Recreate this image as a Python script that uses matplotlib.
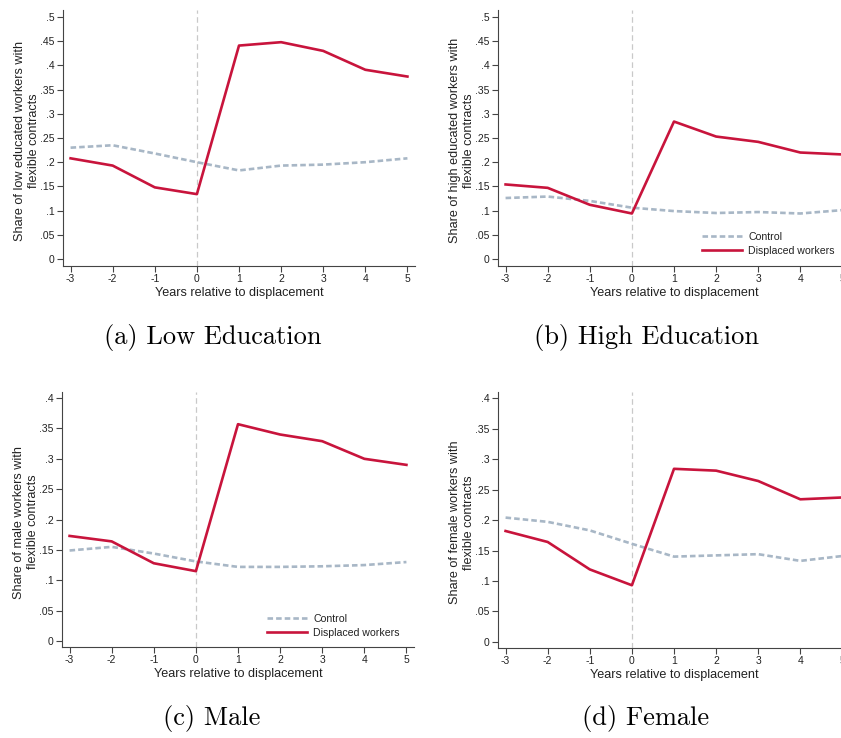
import numpy as np
import matplotlib
matplotlib.use("Agg")
import matplotlib.pyplot as plt

plt.rcParams['font.family'] = ['Liberation Sans', 'DejaVu Sans']
plt.rcParams['lines.scale_dashes'] = False

# data
years = [-3, -2, -1, 0, 1, 2, 3, 4, 5]

low_disp = [0.208, 0.193, 0.148, 0.134, 0.441, 0.448, 0.430, 0.391, 0.377]
low_ctrl = [0.230, 0.235, 0.218, 0.200, 0.183, 0.193, 0.195, 0.200, 0.208]

high_disp = [0.154, 0.147, 0.112, 0.094, 0.284, 0.253, 0.242, 0.220, 0.216]
high_ctrl = [0.126, 0.129, 0.120, 0.106, 0.099, 0.095, 0.097, 0.094, 0.101]

male_disp = [0.173, 0.164, 0.128, 0.115, 0.357, 0.340, 0.329, 0.300, 0.290]
male_ctrl = [0.149, 0.155, 0.144, 0.131, 0.122, 0.122, 0.123, 0.125, 0.130]

female_disp = [0.182, 0.164, 0.119, 0.093, 0.284, 0.281, 0.264, 0.234, 0.237]
female_ctrl = [0.204, 0.197, 0.183, 0.161, 0.140, 0.142, 0.144, 0.133, 0.141]

ylabels = ["Share of low educated workers with\nflexible contracts",
           "Share of high educated workers with\nflexible contracts",
           "Share of male workers with\nflexible contracts",
           "Share of female workers with\nflexible contracts"]
captions = ["(a) Low Education", "(b) High Education", "(c) Male", "(d) Female"]

yticks_top = [0, .05, .1, .15, .2, .25, .3, .35, .4, .45, .5]
yticks_bot = [0, .05, .1, .15, .2, .25, .3, .35, .4]

RED = '#C8143C'
CTRL = '#A8B7C6'
AXC = '#444444'

W, H = 841, 738
fig = plt.figure(figsize=(W / 100, H / 100), dpi=100)


def make_ax(left, top, bottom, width=352):
    return fig.add_axes([left / W, 1 - bottom / H, width / W, (bottom - top) / H])


def fmt(v):
    if v == 0:
        return "0"
    return ("%g" % v).lstrip("0")


def panel(ax, disp, ctrl, ylabel, yticks, ylim, legend=None):
    ax.axvline(0, color='#C9C9C9', lw=0.9, ls=(0, (4, 2.5)), zorder=1)
    ax.plot(years, ctrl, color=CTRL, lw=1.9, ls=(0, (4, 2.2)), label='Control', zorder=2)
    ax.plot(years, disp, color=RED, lw=1.9, label='Displaced workers', zorder=3)
    ax.set_xlim(-3.18, 5.18)
    ax.set_ylim(*ylim)
    ax.set_xticks(years)
    ax.set_xticklabels([str(y) for y in years])
    ax.set_yticks(yticks)
    ax.set_yticklabels([fmt(v) for v in yticks])
    for s in ['top', 'right']:
        ax.spines[s].set_visible(False)
    for s in ['left', 'bottom']:
        ax.spines[s].set_color(AXC)
        ax.spines[s].set_linewidth(0.8)
    ax.tick_params(colors=AXC, labelcolor='#222222', labelsize=7.5, length=4, width=0.8, pad=2)
    ax.set_xlabel("Years relative to displacement", fontsize=9.1, color='#222222', labelpad=2)
    ax.set_ylabel(ylabel, fontsize=9.1, color='#222222', ha='center', multialignment='center')
    ax.yaxis.set_label_coords(-0.066, 0.49)
    if legend is not None:
        ax.legend(loc='center left', bbox_to_anchor=legend, bbox_transform=fig.transFigure,
                  frameon=False, fontsize=7.6, handlelength=3.8, handletextpad=0.57,
                  labelspacing=0.35, borderpad=0, borderaxespad=0, labelcolor='#222222')


ax_a = make_ax(63, 10, 266)
ax_b = make_ax(498, 10, 266)
ax_c = make_ax(62, 392, 647)
ax_d = make_ax(498, 392, 648)

top_lim = (-0.0145, 0.5145)
bot_lim = (-0.0099, 0.41)

panel(ax_a, low_disp, low_ctrl, ylabels[0], yticks_top, top_lim)
panel(ax_b, high_disp, high_ctrl, ylabels[1], yticks_top, top_lim,
      legend=(702 / W, 1 - 244 / H))
panel(ax_c, male_disp, male_ctrl, ylabels[2], yticks_bot, bot_lim,
      legend=(267 / W, 1 - 626 / H))
panel(ax_d, female_disp, female_ctrl, ylabels[3], yticks_bot, bot_lim)

cap_pos = [(213, 338), (646, 338), (212, 719), (646, 719)]
for (cx, cy), cap in zip(cap_pos, captions):
    fig.text(cx / W, 1 - cy / H, cap, family='cmr10', fontsize=19,
             ha='center', va='center', color='black')

fig.savefig('out.png', dpi=100)
